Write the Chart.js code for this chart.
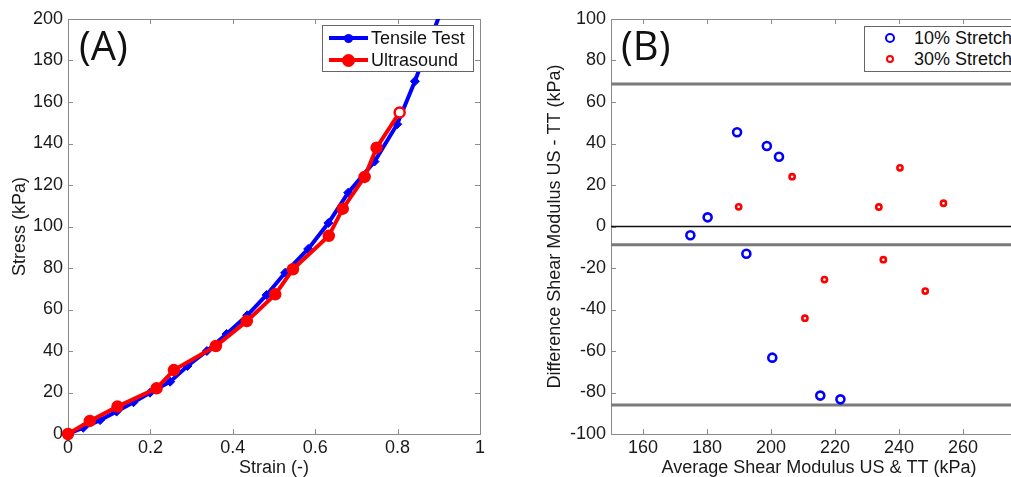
<!DOCTYPE html>
<html><head><meta charset="utf-8">
<script src="https://cdn.jsdelivr.net/npm/chart.js@4.4.1/dist/chart.umd.min.js"></script>
<style>
html,body{margin:0;padding:0;background:#fff;overflow:hidden;width:1011px;height:477px;position:relative;}
#wrapA{position:absolute;left:0;top:0;width:500px;height:477px;}
#wrapB{position:absolute;left:520px;top:0;width:527px;height:477px;}
canvas{display:block;}
.panel{position:absolute;font-family:"Open Sans";font-size:40px;line-height:40px;color:#111;z-index:2;}
.legend{position:absolute;border:1px solid #666;background:#fff;font-family:"Liberation Sans";font-size:18px;color:#111;z-index:3;box-sizing:border-box;}
.row{position:absolute;left:0;height:22px;line-height:22px;white-space:nowrap;}
.lbl{position:absolute;top:0;}
.ln{position:absolute;height:4px;top:9px;}
.mk{position:absolute;border-radius:50%;box-sizing:border-box;}
</style></head><body>
<div id="wrapA"><canvas id="cA" width="500" height="477" style="width:500px;height:477px"></canvas></div>
<div id="wrapB"><canvas id="cB" width="527" height="477" style="width:527px;height:477px"></canvas></div>
<div class="panel" id="pA" style="left:79px;top:25px">(A)</div>
<div class="panel" id="pB" style="left:621px;top:25px">(B)</div>
<div class="legend" id="legA" style="left:322px;top:25px;width:152px;height:47px"></div>
<div class="legend" id="legB" style="left:864px;top:26px;width:200px;height:46px"></div>
<script>
// ---- Panel A data ----
const strainTT = [0,0.037,0.078,0.118,0.159,0.199,0.248,0.29,0.337,0.385,0.435,0.482,0.527,0.583,0.632,0.68,0.744,0.799,0.842,0.945];
const stressTT = [0,3,6.7,10.8,15.3,19.9,25.2,32.8,40,48.2,57.2,67,77.7,89.2,101.7,116.3,131.3,149.3,170,225];
const strainUS = [0,0.053,0.12,0.215,0.257,0.359,0.434,0.503,0.546,0.633,0.667,0.72,0.749,0.805];
const stressUS = [0,6.3,13.2,22,30.8,42.4,54.4,67.3,79.4,95.5,108.6,123.9,138,155];
const strainTicks = [0,0.2,0.4,0.6,0.8,1];
const stressTicks = [0,20,40,60,80,100,120,140,160,180,200];

// ---- Panel B data ----
const avg10 = [174.8,180.2,189.4,198.7,202.5,192.3,200.4,215.4,221.7];
const diff10 = [-4.2,4.4,45.4,38.8,33.6,-13.1,-63.2,-81.5,-83.3];
const avg30 = [189.9,206.6,233.7,240.3,253.9,235.1,216.7,210.6,248.2];
const diff30 = [9.5,24,9.4,28.3,11.2,-16,-25.6,-44.2,-31.1];
const limitLines = [68.7,-8.8,-86];
const zeroLine = [0];
const avgTicks = [160,180,200,220,240,260,280];
const diffTicks = [-100,-80,-60,-40,-20,0,20,40,60,80,100];

const BLUE='#0000ff', RED='#ff0000', TXT='#1a1a1a', AX='#8a8a8a';
const tickFont = {family:'Liberation Sans', size:18};
const zip = (xs,ys)=>xs.map((x,i)=>({x:x,y:ys[i]}));

const framePlugin = {
  id:'frame',
  beforeDatasetsDraw(chart){
    const {ctx, chartArea:a, scales:{x,y}} = chart;
    ctx.save();
    ctx.strokeStyle=AX; ctx.lineWidth=1;
    ctx.strokeRect(Math.round(a.left)+0.5, Math.round(a.top)+0.5, Math.round(a.right-a.left), Math.round(a.bottom-a.top));
    const L=5;
    ctx.beginPath();
    x.ticks.forEach(t=>{const p=Math.round(x.getPixelForValue(t.value))+0.5; ctx.moveTo(p,a.bottom); ctx.lineTo(p,a.bottom-L); ctx.moveTo(p,a.top); ctx.lineTo(p,a.top+L);});
    y.ticks.forEach(t=>{const p=Math.round(y.getPixelForValue(t.value))+0.5; ctx.moveTo(a.left,p); ctx.lineTo(a.left+L,p); ctx.moveTo(a.right,p); ctx.lineTo(a.right-L,p);});
    ctx.stroke(); ctx.restore();
  }
};

function axis(min,max,tickVals,title,horizontal,fitSize,titlePad){
  return {
    type:'linear', min:min, max:max,
    grid:{display:false, drawTicks:false}, border:{display:false},
    ticks:{font:tickFont, color:TXT, padding: horizontal?3:5, callback:v=>String(v)},
    afterBuildTicks:s=>{s.ticks = tickVals.map(v=>({value:v}));},
    afterFit:s=>{ if(horizontal) s.height=fitSize; else s.width=fitSize; },
    title:{display:true, text:title, color:TXT, font:{family:'Liberation Sans', size:18, lineHeight:horizontal?1:1.2}, padding:titlePad}
  };
}

// ---- Chart A ----
const chartA = new Chart(document.getElementById('cA'), {
  type:'line',
  data:{datasets:[
    {label:'Tensile Test', data:zip(strainTT,stressTT), borderColor:BLUE, backgroundColor:BLUE, borderWidth:4,
     pointStyle:'rectRot', pointRadius:4.5, pointBorderWidth:1, pointBackgroundColor:BLUE, pointBorderColor:BLUE, order:2,
     clip:{left:10,bottom:10,top:0,right:0}},
    {label:'Ultrasound', data:zip(strainUS,stressUS), borderColor:RED, backgroundColor:RED, borderWidth:4,
     pointStyle:'circle', pointRadius:5, pointBorderWidth:2.5, pointBorderColor:RED,
     pointBackgroundColor:c=> c.dataIndex===strainUS.length-1 ? '#ffffff' : RED, order:1,
     clip:{left:10,bottom:10,top:0,right:0}}
  ]},
  options:{
    responsive:false, animation:false, parsing:true,
    layout:{padding:{top:19,right:20,left:0,bottom:0}},
    plugins:{legend:{display:false}, tooltip:{enabled:false}},
    scales:{
      x: axis(0,1,strainTicks,'Strain (-)',true,43,{top:0,bottom:0}),
      y: axis(0,200,stressTicks,'Stress (kPa)',false,68,{top:9,bottom:0})
    }
  },
  plugins:[framePlugin]
});

// ---- Chart B ----
const chartB = new Chart(document.getElementById('cB'), {
  type:'scatter',
  data:{datasets:[
    {label:'10% Stretch', data:zip(avg10,diff10), pointStyle:'circle', pointRadius:4, pointBorderWidth:2.6,
     pointBorderColor:BLUE, pointBackgroundColor:'#ffffff', borderColor:BLUE, backgroundColor:'#ffffff'},
    {label:'30% Stretch', data:zip(avg30,diff30), pointStyle:'circle', pointRadius:2.6, pointBorderWidth:2.6,
     pointBorderColor:RED, pointBackgroundColor:'#ffffff', borderColor:RED, backgroundColor:'#ffffff'},
    {label:'zero', data:[{x:150,y:zeroLine[0]},{x:280,y:zeroLine[0]}], showLine:true, borderColor:'#111', borderWidth:1.3, pointRadius:0},
    ...limitLines.map(v=>({label:'limit', data:[{x:150,y:v},{x:280,y:v}], showLine:true, borderColor:'#7a7a7a', borderWidth:3, pointRadius:0}))
  ]},
  options:{
    responsive:false, animation:false,
    layout:{padding:{top:19,right:20,left:0,bottom:0}},
    plugins:{legend:{display:false}, tooltip:{enabled:false}},
    scales:{
      x: axis(150,280,avgTicks,'Average Shear Modulus US & TT (kPa)',true,43,{top:0,bottom:0}),
      y: axis(-100,100,diffTicks,'Difference Shear Modulus US - TT (kPa)',false,91,{top:24,bottom:0})
    }
  },
  plugins:[framePlugin]
});

// ---- HTML legends built from dataset labels ----
function buildLegend(el, items){
  items.forEach((it,i)=>{
    const row=document.createElement('div'); row.className='row';
    row.style.top=(it.rowTop[i])+'px'; row.style.width='100%';
    if(it.line){ const ln=document.createElement('div'); ln.className='ln'; ln.style.left=it.lineLeft+'px'; ln.style.width=it.lineW+'px'; ln.style.background=it.colors[i]; row.appendChild(ln); }
    const mk=document.createElement('div'); mk.className='mk';
    const d=it.mkSize[i]; mk.style.width=d+'px'; mk.style.height=d+'px';
    mk.style.left=(it.mkCx-d/2)+'px'; mk.style.top=(11-d/2)+'px';
    mk.style.border=it.mkBorder[i]+'px solid '+it.colors[i]; mk.style.background=it.mkFill[i];
    row.appendChild(mk);
    const t=document.createElement('span'); t.className='lbl'; t.style.left=it.textLeft+'px'; t.textContent=it.labels[i];
    row.appendChild(t); el.appendChild(row);
  });
}
const dsA = chartA.data.datasets, dsB = chartB.data.datasets;
const cfgA = {labels:[dsA[0].label, dsA[1].label], colors:[BLUE,RED], rowTop:[1,23], line:true, lineLeft:6, lineW:39,
  mkCx:25, mkSize:[9,13], mkBorder:[0,0], mkFill:[BLUE,RED], textLeft:48};
buildLegend(document.getElementById('legA'), [0,1].map(()=>cfgA));
const cfgB = {labels:[dsB[0].label, dsB[1].label], colors:[BLUE,RED], rowTop:[0,21], line:false,
  mkCx:25, mkSize:[10,8], mkBorder:[2.6,2.6], mkFill:['#fff','#fff'], textLeft:49};
buildLegend(document.getElementById('legB'), [0,1].map(()=>cfgB));
</script>
</body></html>
